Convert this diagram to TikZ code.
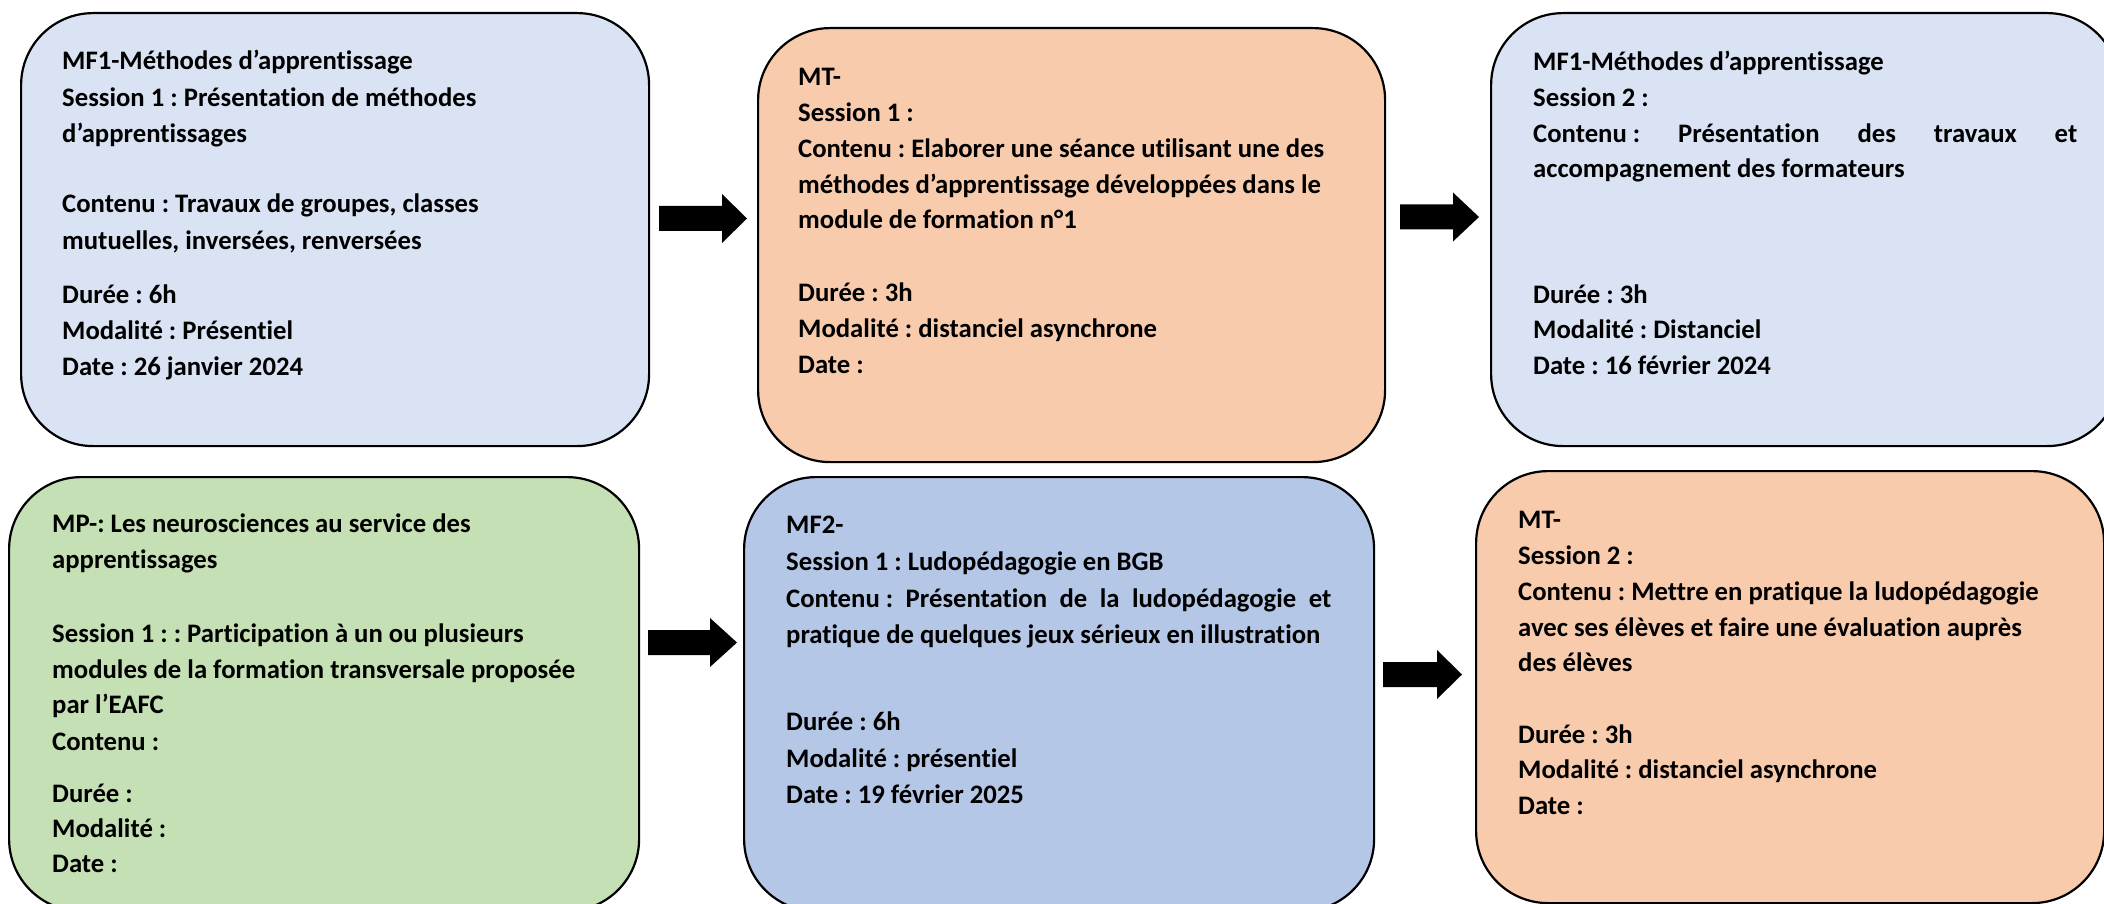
\documentclass[tikz,border=0pt]{standalone}
\usepackage{fontspec}
\setmainfont{Carlito}[Ligatures=NoCommon]
\definecolor{lblue}{HTML}{DAE3F3}
\definecolor{mblue}{HTML}{B4C7E7}
\definecolor{lorange}{HTML}{F8CBAD}
\definecolor{lgreen}{HTML}{C5E0B4}
\frenchspacing
\tikzset{
  card/.style={draw=black, line width=2.2pt, rounded corners=72pt, anchor=north west, inner sep=0pt},
  txt/.style={anchor=base west, inner sep=0pt, font=\fontsize{26.7}{32}\selectfont\bfseries},
  blockarrow/.style={fill=black}
}
\newcommand\tline[4]{\node[txt] (#1) at (#2,#3) {#4};}
\newcommand\barrow[4]{\fill[blockarrow] (#1,#4-12.5) -- (#2,#4-12.5) -- (#2,#4-24.5) -- (#3,#4) -- (#2,#4+24.5) -- (#2,#4+12.5) -- (#1,#4+12.5) -- cycle;}
\begin{document}
\begin{tikzpicture}[x=1pt,y=-1pt]
\useasboundingbox (0,0) rectangle (2104,904);
\clip (0,0) rectangle (2104,904);
\fill[white] (0,0) rectangle (2104,904);
% boxes
\node[card, fill=lblue, minimum width=628pt, minimum height=433pt] (b1) at (20,12) {};
\node[card, fill=lorange, minimum width=627pt, minimum height=434pt] (b2) at (757,27) {};
\node[card, fill=lblue, minimum width=628pt, minimum height=433pt] (b3) at (1490,12) {};
\node[card, fill=lgreen, minimum width=630pt, minimum height=434pt] (b4) at (8,476) {};
\node[card, fill=mblue, minimum width=630pt, minimum height=434pt] (b5) at (743,476) {};
\node[card, fill=lorange, minimum width=628pt, minimum height=432pt] (b6) at (1475,470) {};
% arrows
\barrow{659}{722}{747}{218.5}
\barrow{1400}{1453}{1479}{217}
\barrow{648}{710}{737}{642.5}
\barrow{1383}{1437}{1462}{674.5}
% box 1
\tline{a1}{62}{70}{MF1-Méthodes d’apprentissage}
\tline{a2}{62}{107}{Session 1 : Présentation de méthodes}
\tline{a3}{62}{143}{d’apprentissages}
\tline{a4}{62}{213}{Contenu : Travaux de groupes, classes}
\tline{a5}{62}{249}{mutuelles, inversées, renversées}
\tline{a6}{62}{303}{Durée : 6h}
\tline{a7}{62}{339}{Modalité : Présentiel}
\tline{a8}{62}{375}{Date : 26 janvier 2024}
% box 2
\tline{c1}{798}{86}{MT-}
\tline{c2}{798}{122}{Session 1 :}
\tline{c3}{798}{158}{Contenu : Elaborer une séance utilisant une des}
\tline{c4}{798}{194}{méthodes d’apprentissage développées dans le}
\tline{c5}{798}{229}{module de formation n°1}
\tline{c6}{798}{301}{Durée : 3h}
\tline{c7}{798}{337}{Modalité : distanciel asynchrone}
\tline{c8}{798}{373}{Date :}
% box 3
\tline{d1}{1533}{71}{MF1-Méthodes d’apprentissage}
\tline{d2}{1533}{107}{Session 2 :}
\tline{d3}{1533}{143}{\makebox[544pt][s]{\mbox{Contenu :} Présentation des travaux et}}
\tline{d4}{1533}{178}{accompagnement des formateurs}
\tline{d5}{1533}{303}{Durée : 3h}
\tline{d6}{1533}{338}{Modalité : Distanciel}
\tline{d7}{1533}{374}{Date : 16 février 2024}
% box 4
\tline{e1}{52}{532}{MP-: Les neurosciences au service des}
\tline{e2}{52}{568}{apprentissages}
\tline{e3}{52}{642}{Session 1 : : Participation à un ou plusieurs}
\tline{e4}{52}{678}{modules de la formation transversale proposée}
\tline{e5}{52}{713}{par l’EAFC}
\tline{e6}{52}{750}{Contenu :}
\tline{e7}{52}{802}{Durée :}
\tline{e8}{52}{837}{Modalité :}
\tline{e9}{52}{872}{Date :}
% box 5
\tline{f1}{786}{533}{MF2-}
\tline{f2}{786}{570}{Session 1 : Ludopédagogie en BGB}
\tline{f3}{786}{607}{\makebox[545pt][s]{\mbox{Contenu :} Présentation de la ludopédagogie et}}
\tline{f4}{786}{643}{pratique de quelques jeux sérieux en illustration}
\tline{f5}{786}{730}{Durée : 6h}
\tline{f6}{786}{767}{Modalité : présentiel}
\tline{f7}{786}{803}{Date : 19 février 2025}
% box 6
\tline{g1}{1518}{528}{MT-}
\tline{g2}{1518}{564}{Session 2 :}
\tline{g3}{1518}{600}{Contenu : Mettre en pratique la ludopédagogie}
\tline{g4}{1518}{636}{avec ses élèves et faire une évaluation auprès}
\tline{g5}{1518}{671}{des élèves}
\tline{g6}{1518}{743}{Durée : 3h}
\tline{g7}{1518}{778}{Modalité : distanciel asynchrone}
\tline{g8}{1518}{814}{Date :}
\end{tikzpicture}
\end{document}
